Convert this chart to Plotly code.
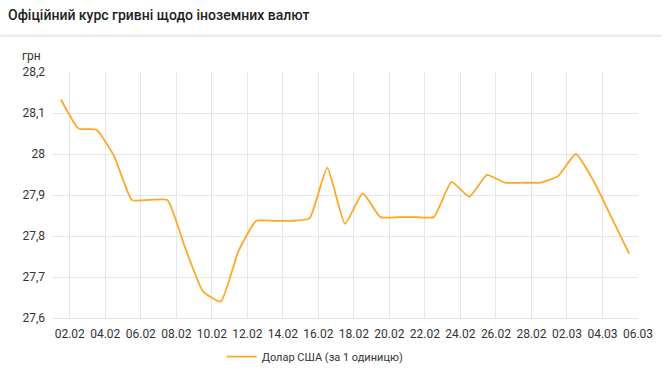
import pandas as pd
import plotly.graph_objects as go

# Data (daily official UAH/USD rate)
dates = pd.date_range("2021-02-01", "2021-03-05", freq="D")
usd_rate = [28.133, 28.062, 28.059, 27.995, 27.888, 27.888, 27.888, 27.771, 27.665, 27.640,
            27.763, 27.837, 27.837, 27.837, 27.843, 27.967, 27.830, 27.904, 27.846, 27.846,
            27.846, 27.846, 27.932, 27.896, 27.949, 27.930, 27.930, 27.930, 27.946, 28.000,
            27.934, 27.846, 27.757]
series_name = "Долар США (за 1 одиницю)"
title_text = "Офіційний курс гривні щодо іноземних валют"
y_unit = "грн"

W, H = 665, 383
ML, MR, MT, MB = 52, 24, 72, 63
PW = W - ML - MR
PH = H - MT - MB

x_pos = dates + pd.Timedelta(hours=12)

fig = go.Figure()
fig.add_trace(go.Scatter(
    x=x_pos, y=usd_rate, mode="lines", name=series_name,
    line=dict(color="#FFA726", width=1.8, shape="spline", smoothing=0.45),
    showlegend=True,
))

font_fam = "Roboto, 'Open Sans', sans-serif"
fig.update_layout(
    width=W, height=H,
    margin=dict(l=ML, r=MR, t=MT, b=MB),
    paper_bgcolor="white", plot_bgcolor="white",
    separators=", ",
    font=dict(family=font_fam, size=12, color="#333333"),
    title=dict(text=title_text, x=8 / W, xref="container", xanchor="left",
               y=1 - 15 / H, yref="container", yanchor="middle",
               font=dict(family=font_fam, size=14, color="#222222", weight=500)),
    xaxis=dict(type="date", range=["2021-02-01", "2021-03-06"],
               tick0="2021-02-02", dtick=2 * 86400000, tickformat="%d.%m",
               showgrid=True, gridcolor="#e6e6e6", gridwidth=1,
               showline=True, linecolor="#e6e6e6", zeroline=False,
               ticks="", ticklabelstandoff=5,
               tickfont=dict(size=12, color="#333333")),
    yaxis=dict(range=[27.6, 28.2], dtick=0.1, tick0=27.6,
               showgrid=True, gridcolor="#e6e6e6", gridwidth=1,
               zeroline=False, showline=False, ticks="", ticklabelstandoff=6,
               tickfont=dict(size=12, color="#333333")),
    legend=dict(orientation="h", x=(316.5 - ML) / PW, xanchor="center",
                y=-(359 - (H - MB)) / PH,
                yanchor="middle", font=dict(size=11, color="#333333"),
                bgcolor="rgba(0,0,0,0)"),
    hovermode=False,
)

# separator under the title
fig.add_shape(type="line", xref="paper", yref="paper",
              x0=-ML / PW, x1=(W - ML) / PW,
              y0=(H - MB - 35.5) / PH, y1=(H - MB - 35.5) / PH,
              line=dict(color="#e8e8e8", width=2))

# unit label
fig.add_annotation(text=y_unit, xref="paper", yref="paper",
                   x=(20 - ML) / PW, y=(H - MB - 56) / PH,
                   xanchor="left", yanchor="middle", showarrow=False,
                   font=dict(size=12, color="#333333"))

fig.write_html("out.html")
